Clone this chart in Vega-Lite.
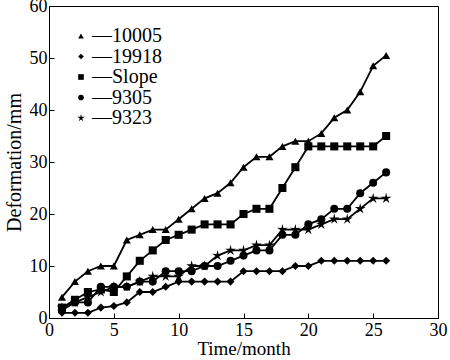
{
  "$schema": "https://vega.github.io/schema/vega-lite/v6.json",
  "width": 389,
  "height": 312,
  "autosize": {"type": "none"},
  "padding": {"left": 49, "top": 6, "right": 12, "bottom": 42},
  "background": "white",
  "config": {
    "font": "Liberation Serif",
    "view": {"stroke": "black", "strokeWidth": 1},
    "axis": {"grid": false, "domainColor": "black", "tickColor": "black", "labelColor": "black", "titleColor": "black", "labelFont": "Liberation Serif", "titleFont": "Liberation Serif", "titleFontWeight": "normal"}
  },
  "datasets": {
    "d": [
      {"month":1,"series":"10005","value":4},{"month":2,"series":"10005","value":7},{"month":3,"series":"10005","value":9},{"month":4,"series":"10005","value":10},{"month":5,"series":"10005","value":10},{"month":6,"series":"10005","value":15},{"month":7,"series":"10005","value":16},{"month":8,"series":"10005","value":17},{"month":9,"series":"10005","value":17},{"month":10,"series":"10005","value":19},{"month":11,"series":"10005","value":21},{"month":12,"series":"10005","value":23},{"month":13,"series":"10005","value":24},{"month":14,"series":"10005","value":26},{"month":15,"series":"10005","value":29},{"month":16,"series":"10005","value":31},{"month":17,"series":"10005","value":31},{"month":18,"series":"10005","value":33},{"month":19,"series":"10005","value":34},{"month":20,"series":"10005","value":34},{"month":21,"series":"10005","value":35.5},{"month":22,"series":"10005","value":38.5},{"month":23,"series":"10005","value":40},{"month":24,"series":"10005","value":43.5},{"month":25,"series":"10005","value":48.5},{"month":26,"series":"10005","value":50.5},
      {"month":1,"series":"19918","value":1},{"month":2,"series":"19918","value":1},{"month":3,"series":"19918","value":1},{"month":4,"series":"19918","value":2},{"month":5,"series":"19918","value":2.3},{"month":6,"series":"19918","value":3},{"month":7,"series":"19918","value":5},{"month":8,"series":"19918","value":5},{"month":9,"series":"19918","value":6},{"month":10,"series":"19918","value":7},{"month":11,"series":"19918","value":7},{"month":12,"series":"19918","value":7},{"month":13,"series":"19918","value":7},{"month":14,"series":"19918","value":7},{"month":15,"series":"19918","value":9},{"month":16,"series":"19918","value":9},{"month":17,"series":"19918","value":9},{"month":18,"series":"19918","value":9},{"month":19,"series":"19918","value":10},{"month":20,"series":"19918","value":10},{"month":21,"series":"19918","value":11},{"month":22,"series":"19918","value":11},{"month":23,"series":"19918","value":11},{"month":24,"series":"19918","value":11},{"month":25,"series":"19918","value":11},{"month":26,"series":"19918","value":11},
      {"month":1,"series":"Slope","value":2},{"month":2,"series":"Slope","value":3.5},{"month":3,"series":"Slope","value":5},{"month":4,"series":"Slope","value":5.5},{"month":5,"series":"Slope","value":5},{"month":6,"series":"Slope","value":8},{"month":7,"series":"Slope","value":11},{"month":8,"series":"Slope","value":13},{"month":9,"series":"Slope","value":15},{"month":10,"series":"Slope","value":16},{"month":11,"series":"Slope","value":17},{"month":12,"series":"Slope","value":18},{"month":13,"series":"Slope","value":18},{"month":14,"series":"Slope","value":18},{"month":15,"series":"Slope","value":20},{"month":16,"series":"Slope","value":21},{"month":17,"series":"Slope","value":21},{"month":18,"series":"Slope","value":25},{"month":19,"series":"Slope","value":29},{"month":20,"series":"Slope","value":33},{"month":21,"series":"Slope","value":33},{"month":22,"series":"Slope","value":33},{"month":23,"series":"Slope","value":33},{"month":24,"series":"Slope","value":33},{"month":25,"series":"Slope","value":33},{"month":26,"series":"Slope","value":35},
      {"month":1,"series":"9305","value":1.5},{"month":2,"series":"9305","value":3},{"month":3,"series":"9305","value":3},{"month":4,"series":"9305","value":6},{"month":5,"series":"9305","value":6},{"month":6,"series":"9305","value":6},{"month":7,"series":"9305","value":7},{"month":8,"series":"9305","value":7},{"month":9,"series":"9305","value":9},{"month":10,"series":"9305","value":9},{"month":11,"series":"9305","value":9},{"month":12,"series":"9305","value":10},{"month":13,"series":"9305","value":10},{"month":14,"series":"9305","value":11},{"month":15,"series":"9305","value":12},{"month":16,"series":"9305","value":13},{"month":17,"series":"9305","value":13},{"month":18,"series":"9305","value":16},{"month":19,"series":"9305","value":16},{"month":20,"series":"9305","value":18},{"month":21,"series":"9305","value":19},{"month":22,"series":"9305","value":21},{"month":23,"series":"9305","value":21},{"month":24,"series":"9305","value":24},{"month":25,"series":"9305","value":26},{"month":26,"series":"9305","value":28},
      {"month":1,"series":"9323","value":2},{"month":2,"series":"9323","value":3},{"month":3,"series":"9323","value":4},{"month":4,"series":"9323","value":5},{"month":5,"series":"9323","value":6},{"month":6,"series":"9323","value":6},{"month":7,"series":"9323","value":7},{"month":8,"series":"9323","value":8},{"month":9,"series":"9323","value":8},{"month":10,"series":"9323","value":8},{"month":11,"series":"9323","value":10},{"month":12,"series":"9323","value":10},{"month":13,"series":"9323","value":12},{"month":14,"series":"9323","value":13},{"month":15,"series":"9323","value":13},{"month":16,"series":"9323","value":14},{"month":17,"series":"9323","value":14},{"month":18,"series":"9323","value":17},{"month":19,"series":"9323","value":17},{"month":20,"series":"9323","value":17},{"month":21,"series":"9323","value":18},{"month":22,"series":"9323","value":19},{"month":23,"series":"9323","value":19},{"month":24,"series":"9323","value":21},{"month":25,"series":"9323","value":23},{"month":26,"series":"9323","value":23}
    ]
  },
  "data": {"name": "d"},
  "encoding": {
    "x": {"field": "month", "type": "quantitative", "title": "Time/month",
      "scale": {"domain": [0, 30], "nice": false, "zero": false},
      "axis": {"values": [0,5,10,15,20,25,30], "tickSize": -5, "labelPadding": 8, "titlePadding": 0, "labelFlush": false, "labelOverlap": false,
        "labelFont": "Liberation Serif", "labelFontSize": 18, "titleFont": "Liberation Serif", "titleFontSize": 19}},
    "y": {"field": "value", "type": "quantitative", "title": "Deformation/mm",
      "scale": {"domain": [0, 60], "nice": false},
      "axis": {"values": [0,10,20,30,40,50,60], "tickSize": -5, "labelPadding": 7, "titlePadding": 5, "labelFlush": false, "labelOverlap": false,
        "labelFont": "Liberation Serif", "labelFontSize": 18, "titleFont": "Liberation Serif", "titleFontSize": 20}}
  },
  "layer": [
    {
      "mark": {"type": "line", "color": "black", "strokeWidth": 1.8},
      "encoding": {"detail": {"field": "series"}}
    },
    {
      "mark": {"type": "point", "filled": true, "color": "black", "opacity": 1, "size": 65},
      "encoding": {
        "shape": {"field": "series", "type": "nominal",
          "scale": {"domain": ["10005","19918","Slope","9305","9323"],
            "range": ["triangle-up","diamond","square","circle","M0,-1.4L0.25,-0.42L1.33,-0.43L0.42,0.17L0.83,1.13L0,0.53L-0.83,1.13L-0.42,0.17L-1.33,-0.43L-0.25,-0.42Z"]},
          "legend": {"orient": "none", "legendX": 22, "legendY": 20, "title": null, "padding": 0,
            "labelFont": "Liberation Serif", "labelFontSize": 20, "labelColor": "black", "symbolFillColor": "black", "symbolStrokeColor": "black", "symbolSize": 32, "symbolType": "circle",
            "rowPadding": 0.5, "labelOffset": 1, "labelExpr": "'\u2014' + datum.label"}}
      }
    }
  ]
}
